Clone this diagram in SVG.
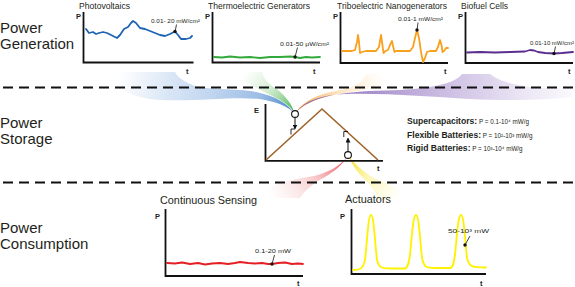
<svg xmlns="http://www.w3.org/2000/svg" width="575" height="287" viewBox="0 0 575 287">
<style>
text{font-family:"Liberation Sans",Arial,sans-serif;fill:#231f20}
.sec{font-size:15px}
.ttl{font-size:8.6px}
.ttl2{font-size:10.8px}
.ax{font-size:7.5px;font-weight:bold}
.lbl{font-size:5.6px}
.ax-l{fill:none;stroke:#111;stroke-width:1.8}
.crv{fill:none;stroke-width:1.8;stroke-linejoin:round;stroke-linecap:round}
.dash{stroke:#111;stroke-width:2.2;stroke-dasharray:10 6}
.pt{fill:#111}
.ptr{stroke:#111;stroke-width:0.8}
.st-b{font-size:8.6px;font-weight:bold}
.st-n{font-size:6.3px;font-weight:normal}
.ring{fill:#fff;stroke:#111;stroke-width:1.1}
.ra{fill:none;stroke:#111;stroke-width:0.9}
</style>
<defs>
<marker id="ah" markerWidth="5" markerHeight="5" refX="4" refY="2.5" orient="auto" markerUnits="userSpaceOnUse">
<path d="M0,0 L5,2.5 L0,5 Z" fill="#111"/>
</marker>
<linearGradient id="gBlue" gradientUnits="userSpaceOnUse" x1="120" y1="72" x2="292" y2="112">
<stop offset="0" stop-color="#a9c6ea" stop-opacity="0"/>
<stop offset="0.3" stop-color="#a9c6ea" stop-opacity="0.45"/>
<stop offset="0.8" stop-color="#7ba7dc" stop-opacity="0.75"/>
<stop offset="1" stop-color="#4a86cc" stop-opacity="1"/>
</linearGradient>
<linearGradient id="gGreen" gradientUnits="userSpaceOnUse" x1="248" y1="70" x2="293" y2="112">
<stop offset="0" stop-color="#a8dba8" stop-opacity="0"/>
<stop offset="0.4" stop-color="#a8dba8" stop-opacity="0.4"/>
<stop offset="1" stop-color="#4cb450" stop-opacity="1"/>
</linearGradient>
<linearGradient id="gOrange" gradientUnits="userSpaceOnUse" x1="380" y1="70" x2="297" y2="112">
<stop offset="0" stop-color="#fcd7a2" stop-opacity="0"/>
<stop offset="0.35" stop-color="#fcd7a2" stop-opacity="0.4"/>
<stop offset="1" stop-color="#f5a640" stop-opacity="1"/>
</linearGradient>
<linearGradient id="gPurple" gradientUnits="userSpaceOnUse" x1="572" y1="90" x2="297" y2="112">
<stop offset="0" stop-color="#cbbde4" stop-opacity="0.1"/>
<stop offset="0.35" stop-color="#b8a4d8" stop-opacity="0.55"/>
<stop offset="1" stop-color="#7a55b0" stop-opacity="1"/>
</linearGradient>
<linearGradient id="gRed" gradientUnits="userSpaceOnUse" x1="347" y1="157" x2="270" y2="198">
<stop offset="0" stop-color="#e8474d" stop-opacity="1"/>
<stop offset="0.45" stop-color="#f29a9c" stop-opacity="0.5"/>
<stop offset="1" stop-color="#f8c8c8" stop-opacity="0"/>
</linearGradient>
<linearGradient id="gYellow" gradientUnits="userSpaceOnUse" x1="349" y1="157" x2="400" y2="200">
<stop offset="0" stop-color="#f2e12a" stop-opacity="1"/>
<stop offset="0.45" stop-color="#fbef7a" stop-opacity="0.5"/>
<stop offset="1" stop-color="#fff6b0" stop-opacity="0"/>
</linearGradient>
</defs>
<rect width="575" height="287" fill="#fff"/>

<g id="connectors">
<path d="M110,72 C115,88 130,98 160,100 C200,102 240,95 265,100 C280,103 290,108 294,113 C288,104 276,96 256,92 C236,88 206,90 195,86 C185,82 178,78 175,72 Z" fill="url(#gBlue)"/>
<path d="M237,72 C245,85 265,92 280,100 C287,104 291,108 294,112 C292,104 285,96 278,90 C270,85 264,80 262,72 Z" fill="url(#gGreen)"/>
<path d="M296,112 C304,101 318,94 336,91 C352,88 362,84 366,74 L395,74 C388,86 366,90 345,93 C325,96 308,101 296,112 Z" fill="url(#gOrange)"/>
<path d="M296,112 C306,100 322,95 345,94 C390,93 430,97 470,99 C510,101 545,100 572,97 L572,88 C540,90 505,86 490,74 L462,74 C455,84 430,88 400,90 C360,91 315,92 296,112 Z" fill="url(#gPurple)"/>
<path d="M347,157 C340,166 330,171 318,175 C295,180 270,181 255,198 L300,198 C305,190 315,182 325,177 C335,171 343,164 347,157 Z" fill="url(#gRed)"/>
<path d="M349,157 C356,165 364,172 372,177 C382,182 396,185 412,200 L378,200 C376,192 370,184 365,180 C358,173 352,165 349,157 Z" fill="url(#gYellow)"/>
</g>

<g id="dividers">
<line class="dash" x1="3" y1="87.5" x2="575" y2="87.5"/>
<line class="dash" x1="3" y1="182.5" x2="575" y2="182.5"/>
</g>

<g id="section-generation">
<text class="sec" x="0" y="33">Power</text>
<text class="sec" x="0" y="49">Generation</text>
</g>
<g id="section-storage">
<text class="sec" x="0" y="128">Power</text>
<text class="sec" x="0" y="144">Storage</text>
</g>
<g id="section-consumption">
<text class="sec" x="0" y="233">Power</text>
<text class="sec" x="0" y="249">Consumption</text>
</g>

<g id="chart-photovoltaics">
<text class="ttl" x="79" y="8.5" textLength="51" lengthAdjust="spacingAndGlyphs">Photovoltaics</text>
<path class="ax-l" d="M83.5,12 V62.5 H193.5"/>
<text class="ax" x="76" y="19">P</text>
<text class="ax" x="186" y="74">t</text>
<polyline class="crv" stroke="#1d64b4" points="86,29 89,33 93,32 96,34 99,33 103,32 107,33 111,35 117,38 120,35 124,29 128,27 131,23 133,21 136,23 140,28 145,29 150,31 155,33 160,35 165,36 170,34 175,31.5 178,35 181,39 186,39 190,38 192,36"/>
<text class="lbl" x="151" y="23" textLength="49" lengthAdjust="spacingAndGlyphs">0.01- 20 mW/cm²</text>
<line class="ptr" x1="176.5" y1="24.5" x2="175.3" y2="30.5"/>
<circle class="pt" cx="175" cy="31.5" r="1.7"/>
</g>

<g id="chart-thermoelectric">
<text class="ttl" x="208" y="8.5" textLength="102" lengthAdjust="spacingAndGlyphs">Thermoelectric Generators</text>
<path class="ax-l" d="M212.5,12 V62.5 H320"/>
<text class="ax" x="205" y="19">P</text>
<text class="ax" x="313" y="74">t</text>
<polyline class="crv" stroke="#33a83b" points="214,57 222,57.5 230,56.5 240,57.5 250,57 260,58 270,57 280,57 290,56.5 295,57 300,58 306,57 312,57.5 320,57"/>
<text class="lbl" x="280" y="46" textLength="49" lengthAdjust="spacingAndGlyphs">0.01-50 μW/cm²</text>
<line class="ptr" x1="297.5" y1="47.5" x2="295.3" y2="56"/>
<circle class="pt" cx="295" cy="57" r="1.7"/>
</g>

<g id="chart-triboelectric">
<text class="ttl" x="337" y="8.5" textLength="110" lengthAdjust="spacingAndGlyphs">Triboelectric Nanogenerators</text>
<path class="ax-l" d="M340.5,12 V63 H448"/>
<text class="ax" x="333" y="19">P</text>
<text class="ax" x="444" y="74">t</text>
<polyline class="crv" stroke="#f8a11e" points="342,51 352,51 355,50 357,42 358,35 359,42 360,53 362,52 366,51 376,51 379,47 381,35 382,42 383.5,53 385.5,51 388,50 390,45 392,41 393,46 394.5,52 396,51 410,51 413,47 415,38 417,30 419,38 421,52 423,62 425,58 427,52 430,51 436,51 438,47 440,40 441.5,45 442.5,52 444,51 446,48 448,48"/>
<text class="lbl" x="398" y="21" textLength="45" lengthAdjust="spacingAndGlyphs">0.01-1 mW/cm²</text>
<line class="ptr" x1="418" y1="22.5" x2="417.2" y2="29"/>
<circle class="pt" cx="417" cy="30" r="1.7"/>
</g>

<g id="chart-biofuel">
<text class="ttl" x="461" y="8.5" textLength="47" lengthAdjust="spacingAndGlyphs">Biofuel Cells</text>
<path class="ax-l" d="M465.5,12 V63 H573"/>
<text class="ax" x="458" y="19">P</text>
<text class="ax" x="568" y="74">t</text>
<polyline class="crv" stroke="#5b2d90" points="467,52.5 480,52 495,52.5 510,52 525,51.5 530,50 534,50.5 538,52 545,53 554,53.5 562,53 573,52"/>
<text class="lbl" x="530" y="45" textLength="44" lengthAdjust="spacingAndGlyphs">0.01-10 mW/cm²</text>
<line class="ptr" x1="555.5" y1="46.5" x2="554.3" y2="52.5"/>
<circle class="pt" cx="554" cy="53.5" r="1.7"/>
</g>

<g id="chart-storage">
<path class="ax-l" d="M265.5,104 V160.8 H383"/>
<text class="ax" x="254" y="112.5">E</text>
<text class="ax" x="377" y="171">t</text>
<polyline fill="none" stroke="#a0622a" stroke-width="1.6" points="266,160 322,109 378,160"/>
<line x1="295" y1="117.5" x2="295" y2="128.5" stroke="#111" stroke-width="1" marker-end="url(#ah)"/>
<path class="ra" d="M291,134.5 V129 H295"/>
<line x1="348" y1="151.5" x2="348" y2="138.5" stroke="#111" stroke-width="1" marker-end="url(#ah)"/>
<path class="ra" d="M343.8,137 V131.5 H348"/>
<circle class="ring" cx="295" cy="114" r="3.4"/>
<circle class="ring" cx="348" cy="155" r="3.4"/>
</g>

<g id="storage-legend">
<text x="407" y="124"><tspan class="st-b">Supercapacitors:</tspan><tspan class="st-n"> P = 0.1-10⁴ mW/g</tspan></text>
<text x="407" y="138"><tspan class="st-b">Flexible Batteries:</tspan><tspan class="st-n"> P = 10²-10³ mW/g</tspan></text>
<text x="407" y="151"><tspan class="st-b">Rigid Batteries:</tspan><tspan class="st-n"> P = 10³-10⁴ mW/g</tspan></text>
</g>

<g id="chart-sensing">
<text class="ttl2" x="160" y="204" textLength="97" lengthAdjust="spacingAndGlyphs">Continuous Sensing</text>
<path class="ax-l" d="M165.5,209 V276 H303"/>
<text class="ax" x="155" y="218.5">P</text>
<text class="ax" x="297" y="286">t</text>
<polyline class="crv" stroke="#e31e24" points="167,263 175,263.5 182,262.5 190,264 198,263 205,264.5 212,263.5 220,263 228,264 235,263 240,262 248,263 255,263.5 262,263 268,264 272,264 278,263 285,262.5 292,264 298,263.5 303,264"/>
<text class="lbl" x="255" y="253" textLength="36" lengthAdjust="spacingAndGlyphs">0.1-20 mW</text>
<line class="ptr" x1="274.5" y1="255" x2="272.3" y2="263"/>
<circle class="pt" cx="272" cy="264" r="1.7"/>
</g>

<g id="chart-actuators">
<text class="ttl2" x="345" y="203" textLength="46" lengthAdjust="spacingAndGlyphs">Actuators</text>
<path class="ax-l" d="M351.5,209 V274 H486"/>
<text class="ax" x="340" y="218.5">P</text>
<text class="ax" x="480" y="286">t</text>
<path class="crv" stroke="#fff200" stroke-width="2" d="M353,270 C360,270 363,269 365,260 C367,245 368,215 371,215 C374,215 375,245 377,260 C379,268 382,268.5 390,268.5 L405,268.5 C408,268 409,262 410,255 C412,235 413,215 416,215 C419,215 420,240 422,258 C424,268 427,268 435,268 L450,268 C453,268 454,262 455,255 C457,235 458,215 461,215 C464,215 465,240 467,258 C469,267 472,267.5 486,267.5"/>
<text class="lbl" x="448" y="233" textLength="41" lengthAdjust="spacingAndGlyphs">50-10³ mW</text>
<line class="ptr" x1="470" y1="236" x2="465.5" y2="244"/>
<circle class="pt" cx="465" cy="245" r="1.7"/>
</g>
</svg>
